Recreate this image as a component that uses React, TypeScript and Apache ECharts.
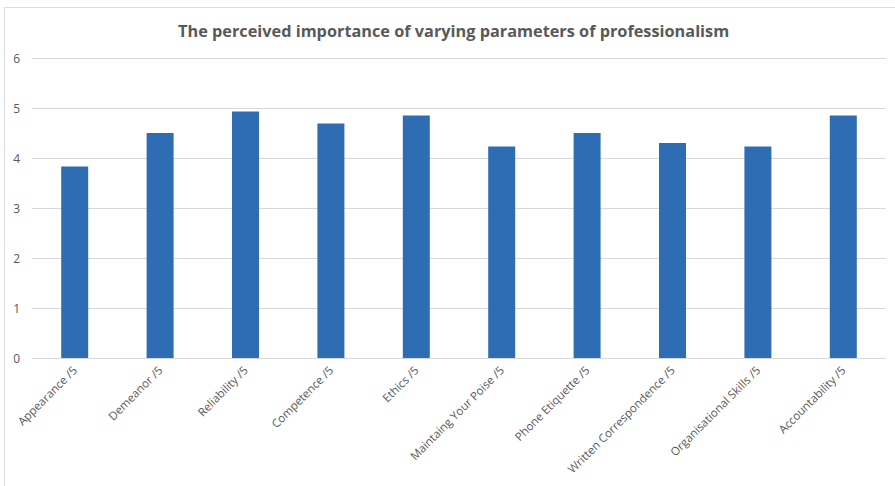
import React, { useEffect, useRef } from "react";
import * as echarts from "echarts";

const categories = [
  "Appearance /5",
  "Demeanor /5",
  "Reliability /5",
  "Competence /5",
  "Ethics /5",
  "Maintaing Your Poise /5",
  "Phone Etiquette /5",
  "Written Correspondence /5",
  "Organisational Skills /5",
  "Accountability /5",
];

const scores = [3.83, 4.5, 4.93, 4.69, 4.85, 4.23, 4.5, 4.3, 4.23, 4.85];

const yTicks = [0, 1, 2, 3, 4, 5, 6];

const TEXT = "#595959";
const FONT = "'Open Sans', 'Noto Sans', sans-serif";

export default function App() {
  const ref = useRef<HTMLDivElement>(null);

  useEffect(() => {
    if (!ref.current) return;
    const chart = echarts.init(ref.current, undefined, { renderer: "svg" });
    chart.setOption({
      animation: false,
      backgroundColor: "#ffffff",
      title: {
        text: "The perceived importance of varying parameters of professionalism",
        left: 173,
        top: 18,
        textStyle: { color: TEXT, fontFamily: FONT, fontWeight: "bold", fontSize: 16.3 },
      },
      graphic: [
        {
          type: "rect",
          shape: { x: 4.5, y: 7.5, width: 1000, height: 1000 },
          style: { fill: "none", stroke: "#dcdcdc", lineWidth: 1 },
          silent: true,
        },
      ],
      grid: { left: 32, right: 9, top: 58, bottom: 128, containLabel: false },
      xAxis: {
        type: "category",
        data: categories,
        axisLine: { lineStyle: { color: "#d9d9d9", width: 1 } },
        axisTick: { show: false },
        axisLabel: {
          rotate: 45,
          interval: 0,
          margin: 10,
          color: TEXT,
          fontFamily: FONT,
          fontSize: 11.5,
        },
      },
      yAxis: {
        type: "value",
        min: yTicks[0],
        max: yTicks[yTicks.length - 1],
        interval: 1,
        axisLine: { show: false },
        axisTick: { show: false },
        splitLine: { lineStyle: { color: "#d9d9d9", width: 1 } },
        axisLabel: {
          margin: 12,
          color: TEXT,
          fontFamily: FONT,
          fontSize: 12,
        },
      },
      series: [
        {
          type: "bar",
          data: scores,
          barWidth: 27,
          itemStyle: { color: "#2e6db4" },
        },
      ],
    });
    return () => chart.dispose();
  }, []);

  return (
    <div
      ref={ref}
      style={{ position: "fixed", left: 0, top: 0, width: 895, height: 486 }}
    />
  );
}
